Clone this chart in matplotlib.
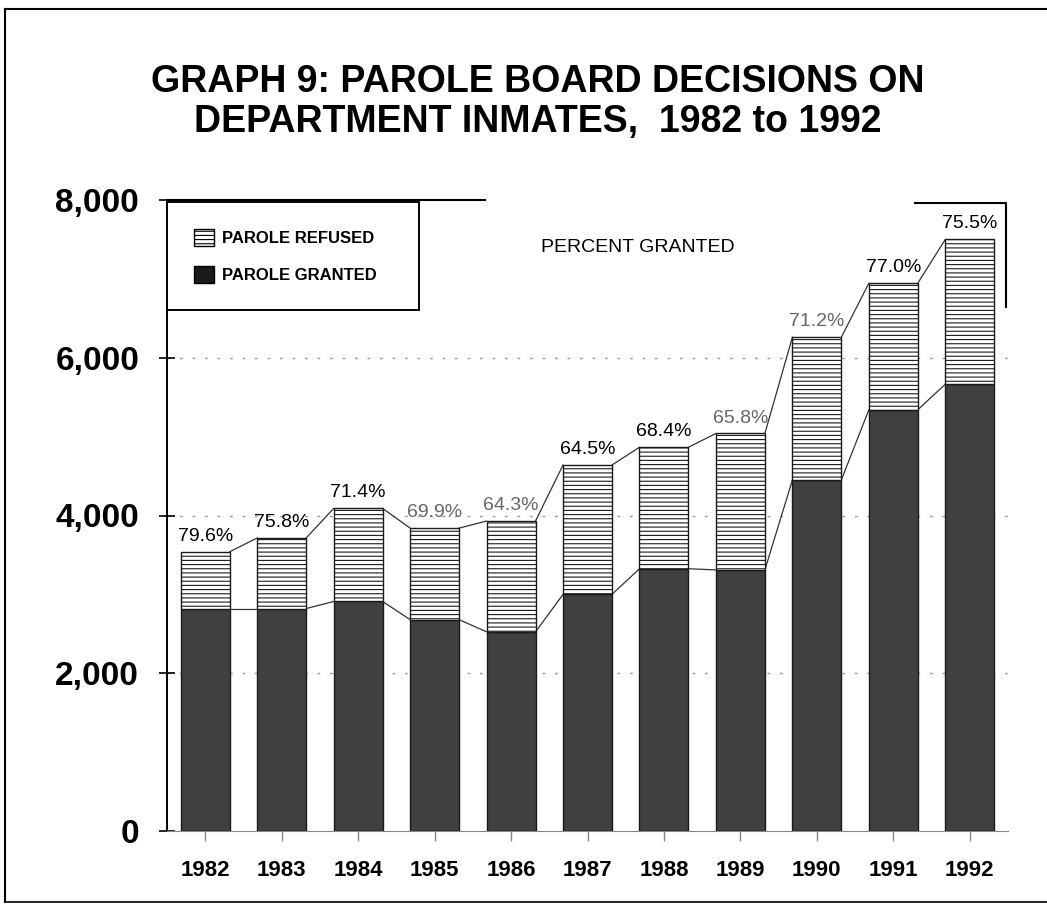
import matplotlib.pyplot as plt
from matplotlib.patches import Patch
from matplotlib.lines import Line2D
import numpy as np

plt.rcParams['font.family'] = ['Liberation Sans', 'DejaVu Sans']
plt.rcParams['hatch.linewidth'] = 0.8

# values
years = ['1982', '1983', '1984', '1985', '1986', '1987', '1988', '1989', '1990', '1991', '1992']
granted = [2820, 2820, 2910, 2680, 2525, 3000, 3325, 3310, 4450, 5340, 5665]
refused = [720, 895, 1180, 1160, 1405, 1640, 1540, 1730, 1810, 1605, 1835]
pct_labels = ['79.6%', '75.8%', '71.4%', '69.9%', '64.3%', '64.5%', '68.4%', '65.8%', '71.2%', '77.0%', '75.5%']
faint_labels = ['69.9%', '64.3%', '65.8%', '71.2%']  # printed lighter in the scan
grid_vals = [2000, 4000, 6000]

granted = np.array(granted)
totals = granted + np.array(refused)
x = np.arange(len(years))
w = 0.64

fig = plt.figure(figsize=(10.47, 9.09), dpi=100)
ax = fig.add_axes([167/1047, 1 - 831/909, (1008 - 167)/1047, (831 - 200)/909])

# dotted guide lines behind the bars
for g in grid_vals:
    ax.axhline(g, linestyle=(0, (2, 7)), color='#999999', lw=1, zorder=1)

# bars
ax.bar(x, granted, width=w, color='#404040', edgecolor='#1a1a1a', linewidth=1, zorder=3)
ax.bar(x, refused, width=w, bottom=granted, color='white', edgecolor='#1a1a1a',
       hatch='----', linewidth=1, zorder=3)

# link lines between neighbouring bars
for i in range(len(x) - 1):
    for level in (totals, granted):
        ax.plot([x[i] + w/2, x[i+1] - w/2], [level[i], level[i+1]],
                color='#333333', lw=0.9, zorder=2)

# percent granted labels
for i in range(len(x)):
    col = '#666666' if pct_labels[i] in faint_labels else 'black'
    ax.annotate(pct_labels[i], (x[i], totals[i]), xytext=(0, 5), textcoords='offset points',
                ha='center', va='bottom', fontsize=14, color=col, zorder=4)

ax.text(0.56, 0.924, 'PERCENT GRANTED', transform=ax.transAxes, ha='center', va='center',
        fontsize=14)

ax.set_xlim(-0.5, 10.5)
ax.set_ylim(0, 8000)
ax.set_yticks([0, 2000, 4000, 6000, 8000])
ax.set_yticklabels(['0', '2,000', '4,000', '6,000', '8,000'], fontsize=24, fontweight='bold')
ax.set_xticks(x)
ax.set_xticklabels(years, fontsize=16, fontweight='bold')
ax.tick_params(axis='y', direction='inout', length=12, width=1.2, pad=14)
ax.tick_params(axis='x', direction='out', length=7, width=1, color='#888888', pad=14)

for s in ('top', 'right'):
    ax.spines[s].set_visible(False)
ax.spines['left'].set_linewidth(1.4)
ax.spines['bottom'].set_color('#888888')

# partial frame pieces visible in the scan
ax.plot([0, 0.378], [1, 1], transform=ax.transAxes, color='black', lw=1.5, clip_on=False)
ax.plot([0.89, 0.998, 0.998], [0.995, 0.995, 0.83], transform=ax.transAxes,
        color='black', lw=1.5, clip_on=False)

# legend
handles = [Patch(facecolor='white', edgecolor='black', hatch='----', label='PAROLE REFUSED'),
           Patch(facecolor='#1a1a1a', edgecolor='black', label='PAROLE GRANTED')]
leg = ax.legend(handles=handles, loc='upper left', bbox_to_anchor=(0, 0.997, 0.3, 0),
                mode='expand', fancybox=False, edgecolor='black', framealpha=1,
                borderpad=1.6, labelspacing=1.2, handlelength=1.2, handleheight=1.2,
                handletextpad=0.5, borderaxespad=0,
                prop={'size': 12, 'weight': 'bold'})
leg.get_frame().set_linewidth(1.4)
leg.set_zorder(5)

fig.text(538/1047, 1 - 102/909, 'GRAPH 9: PAROLE BOARD DECISIONS ON\nDEPARTMENT INMATES,  1982 to 1992',
         ha='center', va='center', fontsize=27, fontweight='bold', linespacing=1.15)

# page border
fig.add_artist(Line2D([5/1047, 5/1047], [1 - 902/909, 1 - 9/909], color='black', lw=1.5))
fig.add_artist(Line2D([5/1047, 1], [1 - 9/909, 1 - 9/909], color='black', lw=1.5))
fig.add_artist(Line2D([5/1047, 1], [1 - 902/909, 1 - 902/909], color='black', lw=1.2))

fig.savefig('out.png', dpi=100)
